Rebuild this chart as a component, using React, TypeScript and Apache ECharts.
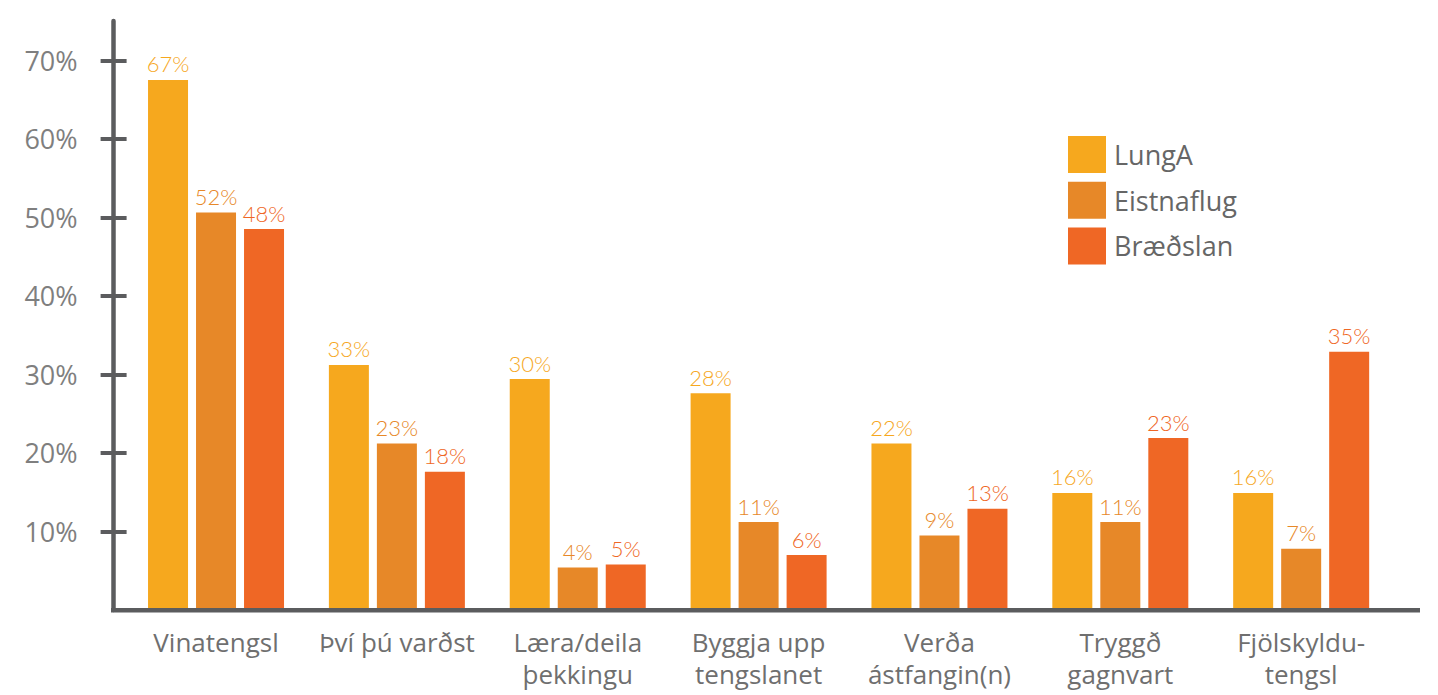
import React, { useEffect, useRef } from "react";
import * as echarts from "echarts";

const categories = [
  "Vinatengsl",
  "Því þú varðst",
  "Læra/deila\nþekkingu",
  "Byggja upp\ntengslanet",
  "Verða\nástfangin(n)",
  "Tryggð\ngagnvart",
  "Fjölskyldu-\ntengsl",
];
const seriesNames = ["LungA", "Eistnaflug", "Bræðslan"];
const lungaValues = [67.5, 31.2, 29.4, 27.6, 21.2, 14.9, 14.9];
const eistnaflugValues = [50.6, 21.2, 5.4, 11.2, 9.5, 11.2, 7.8];
const braedslanValues = [48.5, 17.6, 5.8, 7.0, 12.9, 21.9, 32.9];
const lungaLabels = ["67%", "33%", "30%", "28%", "22%", "16%", "16%"];
const eistnaflugLabels = ["52%", "23%", "4%", "11%", "9%", "11%", "7%"];
const braedslanLabels = ["48%", "18%", "5%", "6%", "13%", "23%", "35%"];
const yTicks = [10, 20, 30, 40, 50, 60, 70];

const colors = ["#F6A81E", "#E78828", "#EF6725"];

export default function App() {
  const ref = useRef<HTMLDivElement>(null);
  useEffect(() => {
    if (!ref.current) return;
    const chart = echarts.init(ref.current, null, { renderer: "svg" });
    const values = [lungaValues, eistnaflugValues, braedslanValues];
    const labels = [lungaLabels, eistnaflugLabels, braedslanLabels];
    const axisColor = "#5b5c5e";
    chart.setOption({
      animation: false,
      grid: { left: 125.6, right: 46.4, top: 21, bottom: 85 },
      legend: {
        orient: "vertical",
        left: 1068,
        top: 136,
        padding: 0,
        itemWidth: 38,
        itemHeight: 37,
        itemGap: 8.7,
        icon: "rect",
        data: seriesNames,
        textStyle: { fontFamily: "Open Sans", fontSize: 27, color: "#666666", padding: [0, 0, 0, 3] },
      },
      xAxis: {
        type: "category",
        data: categories,
        axisLine: { show: false },
        axisTick: { show: false },
        axisLabel: {
          fontFamily: "Open Sans",
          fontSize: 26,
          color: "#6f6f6f",
          lineHeight: 32,
          margin: 16,
          interval: 0,
        },
      },
      yAxis: [
        {
          type: "value",
          min: 0,
          max: 75,
          offset: 12,
          splitLine: { show: false },
          axisLine: { show: true, lineStyle: { color: axisColor, width: 4.5 } },
          axisTick: { show: true, customValues: yTicks, length: 13, lineStyle: { color: axisColor, width: 4 } },
          axisLabel: {
            customValues: yTicks,
            formatter: (v: number) => v + "%",
            fontFamily: "Open Sans",
            fontSize: 27,
            color: "#7f7f7f",
            margin: 36,
          },
        },
        {
          type: "value",
          min: 0,
          max: 75,
          offset: 12,
          position: "left",
          splitLine: { show: false },
          axisLine: { show: false },
          axisTick: { show: true, inside: true, customValues: yTicks, length: 13, lineStyle: { color: axisColor, width: 4 } },
          axisLabel: { show: false },
        },
      ],
      series: seriesNames.map((name, si) => ({
        name,
        type: "bar",
        yAxisIndex: 0,
        barWidth: 40,
        barGap: "20%",
        itemStyle: { color: colors[si] },
        label: {
          show: true,
          position: "top",
          distance: 5,
          fontFamily: "Lato",
          fontWeight: 300,
          fontSize: 22,
          color: colors[si],
          formatter: (p: any) => labels[si][p.dataIndex],
        },
        data: values[si],
      })),
      graphic: [
        {
          type: "line",
          shape: { x1: 111, y1: 610.3, x2: 1420, y2: 610.3 },
          style: { stroke: axisColor, lineWidth: 4.5 },
          z: 100,
        },
      ],
    });
    return () => chart.dispose();
  }, []);
  return <div ref={ref} style={{ position: "absolute", left: 0, top: 0, width: 1438, height: 695 }} />;
}
